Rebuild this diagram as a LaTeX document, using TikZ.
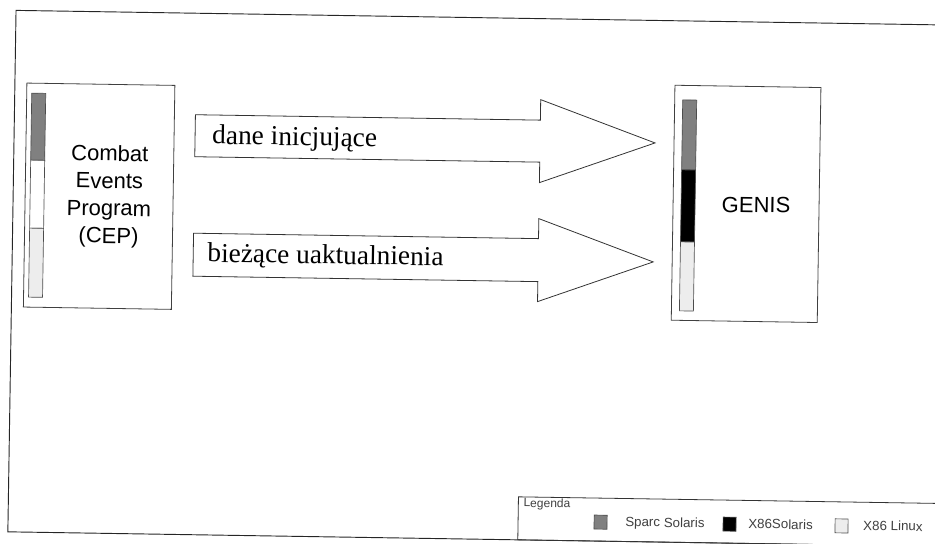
\documentclass[tikz,border=0pt]{standalone}
\usepackage{fontspec}
\setmainfont{Liberation Serif}
\setsansfont{Liberation Sans}
\usepackage{tikz}

\begin{document}
\begin{tikzpicture}[x=0.75pt,y=-0.75pt,
        sysbox/.style={draw=black!75,line width=0.6pt,inner sep=0pt},
        barpart/.style={draw=black!70,line width=0.5pt},
        sparc/.style={barpart,fill=black!50},
        xsol/.style={barpart,fill=black},
        xlin/.style={barpart,fill=black!7},
        blockarrow/.style={draw=black!80,line width=0.6pt,line join=miter},
        arrowlabel/.style={font=\fontsize{20.5}{24}\selectfont,inner sep=0pt,anchor=base west},
        syslabel/.style={font=\sffamily\fontsize{16.5}{20.6}\selectfont,align=center,inner sep=0pt},
        legendtext/.style={font=\sffamily\fontsize{10}{12}\selectfont,text=black!75,inner sep=0pt,anchor=base west}]
    \useasboundingbox (0,0) rectangle (935,543);
    \clip (0,0) rectangle (935,543);
    \begin{scope}[rotate around={-0.9:(467,271)},transform shape]
        % frame and legend
        \draw[black!85,line width=0.7pt] (12,17.5) rectangle (960,539);
        \draw[black!80,line width=0.6pt] (522,496) rectangle (960,539);
        \node[legendtext,font=\sffamily\fontsize{9}{11}\selectfont] (legend) at (527,506) {Legenda};
        \draw[sparc] (598,513) rectangle (611,527);
        \node[legendtext] (lsparc) at (629,524) {Sparc Solaris};
        \draw[xsol] (727,513) rectangle (740,527);
        \node[legendtext] (lxsol) at (752,524) {X86Solaris};
        \draw[xlin] (839,513) rectangle (852,527);
        \node[legendtext] (lxlin) at (867,524) {X86 Linux};
        % CEP
        \node[sysbox,minimum width=111pt,minimum height=168pt] (cep) at (98,202) {};
        \draw[sparc] (29,100) rectangle (43,167);
        \draw[xlin,fill=white] (29,167) rectangle (43,235);
        \draw[xlin] (29,235) rectangle (43,304);
        \node[syslabel] (ceplabel) at (108,202) {Combat\\Events\\Program\\(CEP)};
        % GENIS
        \node[sysbox,minimum width=109.5pt,minimum height=176.25pt] (genis) at (745,199.5) {};
        \draw[sparc] (680,96.5) rectangle (694,166.5);
        \draw[xsol] (680,166.5) rectangle (694,238.5);
        \draw[xlin] (680,238.5) rectangle (694,307.5);
        \node[syslabel] (genislabel) at (755,200.5) {GENIS};
        % data flows
        \draw[blockarrow] (193,119) -- (538,119) -- (538,98.5) -- (653,140)
            -- (538,181.5) -- (538,161) -- (193,161) -- cycle;
        \node[arrowlabel] (init) at (210,148) {dane inicjujące};
        \draw[blockarrow] (193,237.5) -- (538,237.5) -- (538,217.5) -- (653,259)
            -- (538,300.5) -- (538,280.5) -- (193,280.5) -- cycle;
        \node[arrowlabel] (update) at (207,266) {bieżące uaktualnienia};
    \end{scope}
\end{tikzpicture}
\end{document}
